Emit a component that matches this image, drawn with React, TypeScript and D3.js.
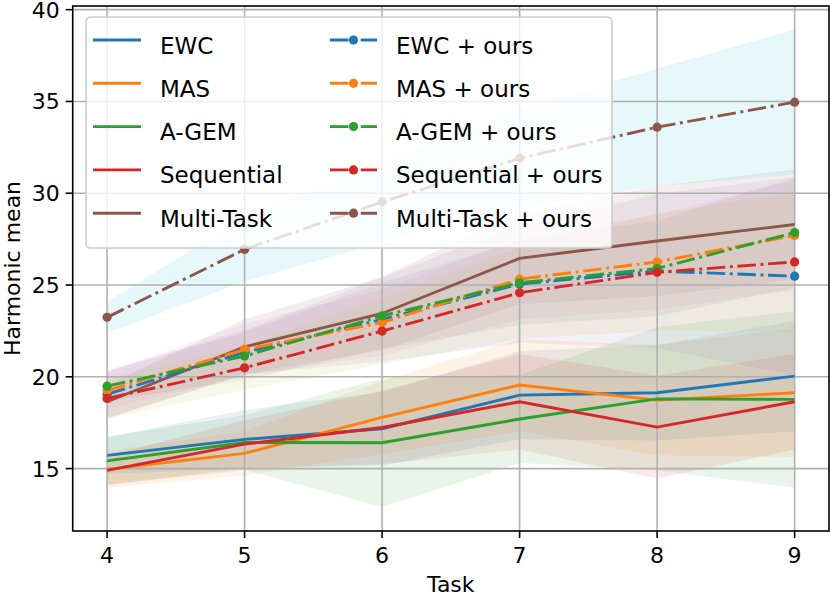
import * as d3 from "d3";

const tasks = [4, 5, 6, 7, 8, 9];
const yTicks = [15, 20, 25, 30, 35, 40];

// mean / std per method (Harmonic mean over tasks)
const ewcMean = [15.72, 16.59, 17.17, 19.0, 19.13, 20.04];
const ewcStd = [1.0, 1.6, 2.0, 2.4, 2.6, 3.0];
const ewcOursMean = [19.05, 21.33, 23.13, 25.05, 25.76, 25.48];
const ewcOursStd = [1.3, 1.2, 2.3, 3.2, 4.2, 5.4];
const masMean = [14.96, 15.83, 17.79, 19.55, 18.73, 19.13];
const masStd = [1.0, 1.2, 2.0, 2.5, 3.0, 3.5];
const masOursMean = [19.25, 21.49, 22.96, 25.32, 26.26, 27.7];
const masOursStd = [1.0, 1.4, 1.8, 2.2, 2.6, 3.0];
const agemMean = [15.42, 16.42, 16.41, 17.7, 18.8, 18.77];
const agemStd = [1.3, 1.5, 3.5, 2.4, 3.9, 4.8];
const agemOursMean = [19.49, 21.13, 23.32, 25.12, 25.9, 27.86];
const agemOursStd = [0.8, 1.3, 1.8, 2.3, 2.6, 3.0];
const seqMean = [14.9, 16.33, 17.24, 18.64, 17.26, 18.64];
const seqStd = [0.8, 1.3, 2.0, 2.6, 2.8, 2.6];
const seqOursMean = [18.82, 20.49, 22.49, 24.58, 25.69, 26.26];
const seqOursStd = [1.1, 1.2, 1.8, 2.5, 3.2, 3.8];
const mtMean = [18.64, 21.63, 23.45, 26.45, 27.4, 28.3];
const mtStd = [0.9, 1.5, 2.0, 2.5, 3.0, 3.0];
const mtOursMean = [23.24, 26.94, 29.53, 31.9, 33.6, 34.96];
const mtOursStd = [0.85, 1.75, 2.2, 2.7, 3.2, 3.95];

const C = ["#1f77b4", "#ff7f0e", "#2ca02c", "#d62728", "#8c564b",
  "#9467bd", "#e377c2", "#7f7f7f", "#bcbd22", "#17becf"];

interface Series { label: string; mean: number[]; std: number[]; color: string; fill: string; ours: boolean; }

// base methods take C0..C4, "+ ours" lines reuse them; their bands continue the cycle C5..C9
const series: Series[] = [
  { label: "EWC", mean: ewcMean, std: ewcStd, color: C[0], fill: C[0], ours: false },
  { label: "MAS", mean: masMean, std: masStd, color: C[1], fill: C[1], ours: false },
  { label: "A-GEM", mean: agemMean, std: agemStd, color: C[2], fill: C[2], ours: false },
  { label: "Sequential", mean: seqMean, std: seqStd, color: C[3], fill: C[3], ours: false },
  { label: "Multi-Task", mean: mtMean, std: mtStd, color: C[4], fill: C[4], ours: false },
  { label: "EWC + ours", mean: ewcOursMean, std: ewcOursStd, color: C[0], fill: C[5], ours: true },
  { label: "MAS + ours", mean: masOursMean, std: masOursStd, color: C[1], fill: C[6], ours: true },
  { label: "A-GEM + ours", mean: agemOursMean, std: agemOursStd, color: C[2], fill: C[7], ours: true },
  { label: "Sequential + ours", mean: seqOursMean, std: seqOursStd, color: C[3], fill: C[8], ours: true },
  { label: "Multi-Task + ours", mean: mtOursMean, std: mtOursStd, color: C[4], fill: C[9], ours: true },
];

const W = 830, H = 598;
const L = 72.7, R = 829, T = 6, B = 531;
const FONT = "'DejaVu Sans', sans-serif";
const LW = 2.9;
const DASH = `${6.4 * LW} ${1.6 * LW} ${LW} ${1.6 * LW}`;

export default function App() {
  const x = d3.scaleLinear().domain([3.75, 9.25]).range([L, R]);
  const y = d3.scaleLinear().domain([11.6, 40.2]).range([B, T]);

  const line = d3.line<number>().x((_, i) => x(tasks[i])).y(d => y(d));
  const area = (s: Series) =>
    d3.area<number>()
      .x((_, i) => x(tasks[i]))
      .y0((d, i) => y(d - s.std[i]))
      .y1((d, i) => y(d + s.std[i]))(s.mean) ?? "";

  const baseList = series.filter(s => !s.ours);
  const oursList = series.filter(s => s.ours);
  const rowY = (i: number) => 45 + i * 43.3;

  return (
    <svg width={W} height={H} style={{ position: "absolute", left: 0, top: 0, background: "white" }}
      fontFamily={FONT}>
      <defs>
        <clipPath id="plot"><rect x={L} y={T} width={R - L} height={B - T} /></clipPath>
      </defs>

      {/* bands */}
      <g clipPath="url(#plot)">
        {series.map(s => (
          <path key={"a" + s.label} d={area(s)} fill={s.fill} fillOpacity={0.1} />
        ))}
      </g>

      {/* grid */}
      <g stroke="#b0b0b0" strokeWidth={1.6}>
        {tasks.map(t => <line key={"gx" + t} x1={x(t)} x2={x(t)} y1={T} y2={B} />)}
        {yTicks.map(v => <line key={"gy" + v} x1={L} x2={R} y1={y(v)} y2={y(v)} />)}
      </g>

      {/* lines */}
      <g clipPath="url(#plot)" fill="none">
        {series.map(s => (
          <g key={"l" + s.label}>
            <path d={line(s.mean) ?? ""} stroke={s.color} strokeWidth={LW}
              strokeDasharray={s.ours ? DASH : undefined} />
            {s.ours && s.mean.map((v, i) => (
              <circle key={i} cx={x(tasks[i])} cy={y(v)} r={4.6} fill={s.color} />
            ))}
          </g>
        ))}
      </g>

      {/* spines */}
      <rect x={L} y={T} width={R - L} height={B - T} fill="none" stroke="black" strokeWidth={1.6} />

      {/* ticks */}
      <g fontSize={22} fill="black">
        {tasks.map(t => (
          <g key={"tx" + t}>
            <line x1={x(t)} x2={x(t)} y1={B} y2={B + 7} stroke="black" strokeWidth={1.6} />
            <text x={x(t)} y={B + 32} textAnchor="middle">{t}</text>
          </g>
        ))}
        {yTicks.map(v => (
          <g key={"ty" + v}>
            <line x1={L - 7} x2={L} y1={y(v)} y2={y(v)} stroke="black" strokeWidth={1.6} />
            <text x={L - 13} y={y(v) + 8} textAnchor="end">{v}</text>
          </g>
        ))}
      </g>

      {/* axis labels */}
      <text x={(L + R) / 2} y={592} textAnchor="middle" fontSize={22}>Task</text>
      <text transform={`translate(20, ${(T + B) / 2}) rotate(-90)`} textAnchor="middle" fontSize={22}>
        Harmonic mean
      </text>

      {/* legend */}
      <rect x={86} y={17} width={526} height={231} rx={4.6} fill="white" fillOpacity={0.8}
        stroke="#cccccc" strokeWidth={1.6} />
      <g fontSize={23}>
        {baseList.map((s, i) => (
          <g key={"lb" + s.label}>
            <line x1={93} x2={141} y1={rowY(i) - 5} y2={rowY(i) - 5} stroke={s.color} strokeWidth={LW} />
            <text x={160} y={rowY(i) + 8.5}>{s.label}</text>
          </g>
        ))}
        {oursList.map((s, i) => (
          <g key={"lo" + s.label}>
            <line x1={330} x2={377} y1={rowY(i) - 5} y2={rowY(i) - 5} stroke={s.color} strokeWidth={LW}
              strokeDasharray={DASH} />
            <circle cx={353.5} cy={rowY(i) - 5} r={4.6} fill={s.color} />
            <text x={396} y={rowY(i) + 8.5}>{s.label}</text>
          </g>
        ))}
      </g>
    </svg>
  );
}
